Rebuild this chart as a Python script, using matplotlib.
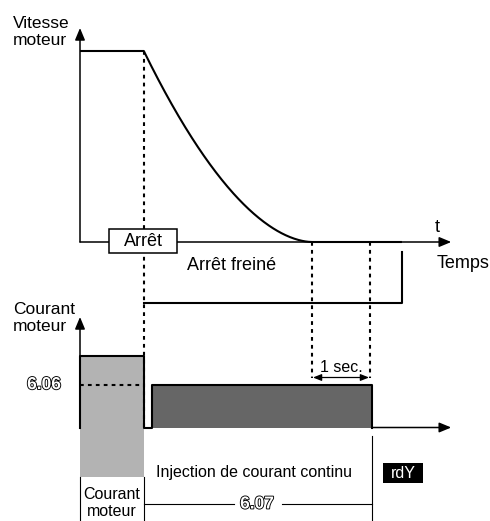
import numpy as np
import matplotlib.pyplot as plt
import matplotlib.patheffects as pe
from matplotlib.patches import Rectangle

plt.rcParams['font.family'] = ['Liberation Sans', 'DejaVu Sans']

# event times (s) on the common time axis
t_stop = 1.10          # stop command
t_inject = 1.24        # DC injection starts
t_standstill = 4.0     # motor speed reaches zero
t_one_sec = 5.0        # one second after standstill
t_inject_end = 5.03    # DC injection ends
t_ready = 5.55         # end of braked stop
t_axis_end = 6.40

# levels (per unit)
speed_run = 1.0
current_run = 1.0
current_dc = 0.6       # level set by 6.06
decay_power = 1.8      # shape of the braking ramp

# canvas layout in pixels
X0, PX_PER_S = 80, 58
SPEED_BASE, SPEED_SCALE = 242, 191
CUR_BASE, CUR_SCALE = 427.5, 71.5


def tx(t):
    return X0 + PX_PER_S * np.asarray(t)


def speed_y(v):
    return SPEED_BASE - SPEED_SCALE * np.asarray(v)


def current_y(i):
    return CUR_BASE - CUR_SCALE * np.asarray(i)


fig = plt.figure(figsize=(4.9, 5.21), dpi=100)
ax = fig.add_axes([0, 0, 1, 1])
ax.set_xlim(0, 490)
ax.set_ylim(521, 0)
ax.axis('off')

LW = 1.5
AX_LW = 1.1
DASH = (0, (1.8, 2.0))
arrow = dict(arrowstyle='-|>,head_length=0.6,head_width=0.25', color='black',
             lw=AX_LW, mutation_scale=12, shrinkA=0, shrinkB=0)

# ---- speed panel ----
ax.annotate('', xy=(tx(0), 28), xytext=(tx(0), SPEED_BASE), arrowprops=arrow)
ax.annotate('', xy=(tx(t_axis_end), SPEED_BASE), xytext=(tx(0), SPEED_BASE),
            arrowprops=arrow)

s = np.linspace(0, 1, 200)
t_decay = t_stop + s * (t_standstill - t_stop)
v_decay = speed_run * (1 - s) ** decay_power
t_speed = np.concatenate([[0, t_stop], t_decay, [t_ready]])
v_speed = np.concatenate([[speed_run, speed_run], v_decay, [0]])
ax.plot(tx(t_speed), speed_y(v_speed), color='black', lw=LW,
        solid_capstyle='butt', zorder=3)

# braked stop window
ax.plot(tx([t_stop, t_ready, t_ready]), [303, 303, 252], color='black', lw=LW)

# event markers
ax.plot(tx([t_stop, t_stop]), [speed_y(speed_run), CUR_BASE], color='black',
        lw=LW, ls=DASH, zorder=4)
for t in (t_standstill, t_one_sec):
    ax.plot(tx([t, t]), [SPEED_BASE, 377.5], color='black', lw=LW, ls=DASH)

ax.add_patch(Rectangle((109, 229), 68, 24, facecolor='white', edgecolor='black',
                       lw=AX_LW, zorder=5))
ax.text(143, 241.5, 'Arrêt', ha='center', va='center', fontsize=13, zorder=6)
ax.text(13, 32, 'Vitesse\nmoteur', ha='left', va='center', fontsize=12.5,
        linespacing=1.2)
ax.text(437, 228, 't', ha='center', va='center', fontsize=13)
ax.text(463, 264, 'Temps', ha='center', va='center', fontsize=13)
ax.text(232, 265, 'Arrêt freiné', ha='center', va='center', fontsize=13)

# ---- current panel ----
ax.annotate('', xy=(tx(0), 317), xytext=(tx(0), CUR_BASE), arrowprops=arrow)

ax.fill_between(tx([0, t_stop]), current_y(0), current_y(current_run),
                color='#b3b3b3', lw=0, zorder=1)
ax.fill_between(tx([t_inject, t_inject_end]), current_y(0),
                current_y(current_dc), color='#666666', lw=0, zorder=1)
t_cur = [0, 0, t_stop, t_stop, t_inject, t_inject, t_inject_end, t_inject_end]
i_cur = [0, current_run, current_run, 0, 0, current_dc, current_dc, 0]
ax.plot(tx(t_cur), current_y(i_cur), color='black', lw=LW, zorder=3)
ax.annotate('', xy=(tx(t_axis_end), CUR_BASE), xytext=(tx(t_inject_end), CUR_BASE),
            arrowprops=arrow)
ax.plot(tx([0, t_stop]), current_y([current_dc, current_dc]), color='black',
        lw=LW, ls=DASH, zorder=3)

outline = [pe.withStroke(linewidth=1.3, foreground='black')]
ax.text(44, current_y(current_dc), '6.06', ha='center', va='center', fontsize=12.5,
        fontweight='bold', color='white', path_effects=outline)
ax.text(13, 318, 'Courant\nmoteur', ha='left', va='center', fontsize=12.5,
        linespacing=1.2)

# one second dimension
ax.annotate('', xy=(tx(t_standstill) + 1, 377.5), xytext=(tx(t_one_sec) - 1, 377.5),
            arrowprops=dict(arrowstyle='<|-|>,head_length=0.5,head_width=0.2',
                            color='black', lw=0.9, mutation_scale=10,
                            shrinkA=0, shrinkB=0))
ax.text(tx((t_standstill + t_one_sec) / 2), 367, '1 sec.', ha='center',
        va='center', fontsize=11.5)

# ---- phase legend below the time axis ----
ax.add_patch(Rectangle((tx(0), CUR_BASE), tx(t_stop) - tx(0), 477 - CUR_BASE,
                       facecolor='#b3b3b3', lw=0))
for x in (tx(0), tx(t_stop)):
    ax.plot([x, x], [477, 521], color='black', lw=0.8)
ax.plot([tx(t_inject_end)] * 2, [436, 521], color='black', lw=0.8)
ax.text((tx(0) + tx(t_stop)) / 2, 503, 'Courant\nmoteur', ha='center',
        va='center', fontsize=11.5, linespacing=1.15)
ax.text(254, 472, 'Injection de courant continu', ha='center', va='center',
        fontsize=11.5)
ax.plot([tx(t_stop), 234], [504, 504], color='black', lw=0.8)
ax.plot([282, tx(t_inject_end)], [504, 504], color='black', lw=0.8)
ax.text(257, 504, '6.07', ha='center', va='center', fontsize=12.5,
        fontweight='bold', color='white', path_effects=outline)

ax.add_patch(Rectangle((383, 463), 40, 20, facecolor='black', lw=0))
ax.text(403, 473.5, 'rdY', ha='center', va='center', fontsize=11.5,
        color='white')

fig.savefig('out.png', dpi=100)
